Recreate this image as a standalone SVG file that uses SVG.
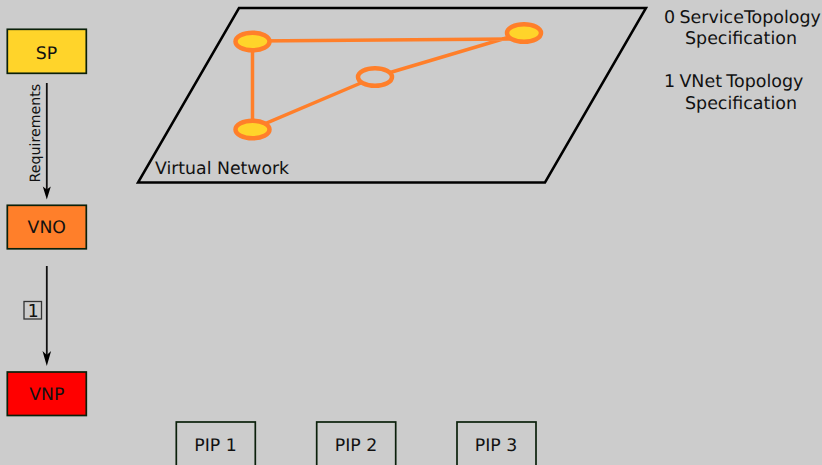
<svg xmlns="http://www.w3.org/2000/svg" width="822" height="465" viewBox="0 0 822 465">
<style>
text{font-family:"DejaVu Sans",sans-serif;font-size:17.300px;fill:#111;text-rendering:geometricPrecision}
.box{stroke:#0a200a;stroke-width:1.700}
.c{text-anchor:middle}
.link{stroke:#ff7f2a;stroke-width:3.500;fill:none}
.node{stroke:#ff7f2a;stroke-width:4.500}
.flow{stroke:#111;stroke-width:1.800;fill:none}
.head{fill:#000;stroke:none}
.lg{font-size:17.450px;word-spacing:-1.200px}
</style>
<rect width="822" height="465" fill="#cccccc"/>
<g id="plane"><path d="M239 8H646L545 182.500H138Z" fill="none" stroke="#000" stroke-width="2.500"/>
<text x="155" y="173.500">Virtual Network</text></g>
<g id="connectors">
<path class="link" d="M252.500 41L523 39M252.500 41V129M252.500 129L375 77M375 77L523 33"/>
<path class="flow" d="M46.800 83V190"/>
<path class="head" d="M46.800 199.500L42.800 186.500L46.800 189.500L50.800 186.500Z"/>
<path class="flow" d="M46.800 266V356"/>
<path class="head" d="M46.800 366L42.500 351L46.800 355L51.100 351Z"/>
<text transform="translate(40 182.500) rotate(-90)" style="font-size:14.200px">Requirements</text>
<rect x="24" y="301.500" width="17.500" height="17.500" fill="none" stroke="#333" stroke-width="1.300"/>
<text class="c" x="33" y="316.500" style="font-family:'DejaVu Sans Mono',monospace;font-size:18px">1</text>
</g>
<g id="v1"><ellipse class="node" cx="252.500" cy="41.500" rx="17" ry="8.800" fill="#ffd42a"/></g>
<g id="v2"><ellipse class="node" cx="252.500" cy="129.500" rx="17" ry="8.800" fill="#ffd42a"/></g>
<g id="v3"><ellipse class="node" cx="375" cy="77" rx="17" ry="8.800" fill="#cccccc"/></g>
<g id="v4"><ellipse class="node" cx="524" cy="33" rx="17" ry="8.800" fill="#ffd42a"/></g>
<g id="SP"><rect class="box" x="7.300" y="29.300" width="79" height="44" fill="#ffd42a"/><text class="c" x="46.500" y="58.500">SP</text></g>
<g id="VNO"><rect class="box" x="7.300" y="205.300" width="79" height="43.500" fill="#ff7f2a"/><text class="c" x="46.800" y="233">VNO</text></g>
<g id="VNP"><rect class="box" x="7.300" y="372" width="79" height="43.500" fill="#ff0000"/><text class="c" x="46.800" y="400">VNP</text></g>
<g id="PIP1"><rect class="box" x="176.300" y="422" width="79" height="50" fill="none"/><text class="c" x="215.500" y="451">PIP 1</text></g>
<g id="PIP2"><rect class="box" x="316.700" y="422" width="79" height="50" fill="none"/><text class="c" x="356" y="451">PIP 2</text></g>
<g id="PIP3"><rect class="box" x="457" y="422" width="79" height="50" fill="none"/><text class="c" x="496" y="451">PIP 3</text></g>
<g id="legend">
<text class="lg" x="664" y="22.500">0 ServiceTopology</text>
<text class="lg" x="685" y="44">Specification</text>
<text class="lg" x="664" y="87">1 VNet Topology</text>
<text class="lg" x="685" y="109">Specification</text>
</g>
</svg>
